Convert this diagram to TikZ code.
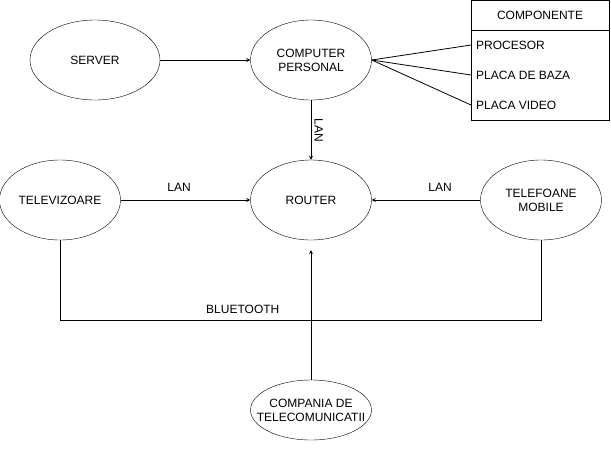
\documentclass[tikz,border=0pt]{standalone}
\usepackage{fontspec}
\setmainfont{Liberation Sans}
\usetikzlibrary{shapes.geometric, arrows}
\tikzstyle{device} = [ellipse, draw, minimum width=121pt, minimum height=80pt, inner sep=0pt, align=center, font=\fontsize{12}{14}\selectfont]
\tikzstyle{part} = [rectangle, anchor=west, inner xsep=5pt, font=\fontsize{12}{14}\selectfont]
\tikzstyle{lbl} = [font=\fontsize{12}{14}\selectfont]
\tikzstyle{arrow} = [line width=0.8pt,->,>=stealth]
\tikzstyle{link} = [line width=0.8pt]

\begin{document}
\begin{tikzpicture}[x=1pt,y=1pt]
            \useasboundingbox (0,0) rectangle (611,-451);
            \node [device, minimum width=130pt] at (95,-60) (server) {SERVER};
            \node [device] at (311,-60) (computer) {COMPUTER\\PERSONAL};
            \node [device] at (311,-200) (router) {ROUTER};
            \node [device] at (60,-200) (tv) {TELEVIZOARE};
            \node [device] at (541,-200) (telefoane) {TELEFOANE\\MOBILE};
            \node [device, minimum height=60pt, inner xsep=-20pt] at (311,-410) (companie) {COMPANIA DE\\TELECOMUNICATII};
            \coordinate (subrouter) at (311,-250);

            \node [draw, link, rectangle, minimum width=138pt, minimum height=30pt, lbl] at (540,-15) (componente) {COMPONENTE};
            \node [draw, link, rectangle, minimum width=138pt, minimum height=90pt] at (540,-75) (lista) {};
            \node [part] at (471,-45) (procesor) {PROCESOR};
            \node [part] at (471,-75) (placabaza) {PLACA DE BAZA};
            \node [part] at (471,-105) (placavideo) {PLACA VIDEO};

            \draw [arrow] (server) -- (computer);
            \draw [arrow] (computer) -- node[lbl, anchor=south, rotate=-90] {LAN} (router);
            \draw [arrow] (tv) -- node[lbl, pos=0.45, above=5pt] {LAN} (router);
            \draw [arrow] (telefoane) -- node[lbl, pos=0.37, above=5pt] {LAN} (router);
            \draw [arrow] (companie) -- (subrouter);
            \draw [link] (computer.east) -- (procesor.west);
            \draw [link] (computer.east) -- (placabaza.west);
            \draw [link] (computer.east) -- (placavideo.west);
            \draw [link] (tv.south) -- ++(0,-80) -| node[lbl, pos=0.19, above=3pt] {BLUETOOTH} (telefoane.south);
            \end{tikzpicture}
\end{document}
